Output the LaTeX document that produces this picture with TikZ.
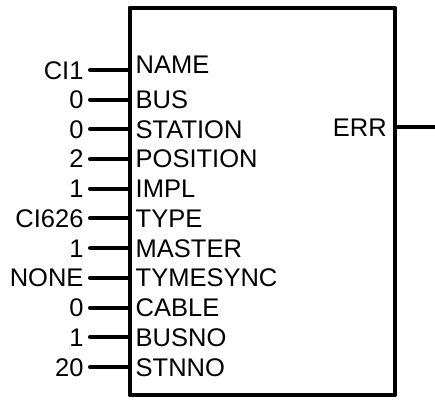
\documentclass[tikz,border=0pt]{standalone}
\usepackage{fontspec}
\setmainfont{Liberation Sans}
\usepackage{tikz}
\usetikzlibrary{positioning}

\begin{document}
\begin{tikzpicture}[x=1pt,y=-1pt,
  txt/.style={font=\fontsize{25.5}{26}\selectfont, text height=18.3pt, text depth=0pt},
  val/.style={txt, anchor=east, inner sep=0pt, outer sep=6.5pt},
  pname/.style={txt, anchor=west, inner sep=0pt},
  pin/.style={line width=4pt, line cap=round}]
\useasboundingbox (0,0) rectangle (435,399);
\node[draw, line width=4pt, line join=round, minimum width=265.5pt, minimum height=387.5pt, inner sep=0pt] (blk) at (262.25,201.25) {};
% inputs
\node[val] (vname) at (90,70) {CI1};
\node[pname] (name) at (135.5,64.5) {NAME};
\draw[pin] (vname.east) -- (vname.east -| blk.west);
\node[val] (vbus) at (90,99.5) {0};
\node[pname] (bus) at (135.5,99.5) {BUS};
\draw[pin] (vbus.east) -- (vbus.east -| blk.west);
\node[val] (vstation) at (90,129) {0};
\node[pname] (station) at (135.5,129) {STATION};
\draw[pin] (vstation.east) -- (vstation.east -| blk.west);
\node[val] (vposition) at (90,158.8) {2};
\node[pname] (position) at (135.5,158.8) {POSITION};
\draw[pin] (vposition.east) -- (vposition.east -| blk.west);
\node[val] (vimpl) at (90,188.5) {1};
\node[pname] (impl) at (135.5,188.5) {IMPL};
\draw[pin] (vimpl.east) -- (vimpl.east -| blk.west);
\node[val] (vtype) at (90,218.2) {CI626};
\node[pname] (type) at (135.5,218.2) {TYPE};
\draw[pin] (vtype.east) -- (vtype.east -| blk.west);
\node[val] (vmaster) at (90,248) {1};
\node[pname] (master) at (135.5,248) {MASTER};
\draw[pin] (vmaster.east) -- (vmaster.east -| blk.west);
\node[val] (vsync) at (90,277.8) {NONE};
\node[pname] (sync) at (135.5,277.8) {TYMESYNC};
\draw[pin] (vsync.east) -- (vsync.east -| blk.west);
\node[val] (vcable) at (90,307.8) {0};
\node[pname] (cable) at (135.5,307.8) {CABLE};
\draw[pin] (vcable.east) -- (vcable.east -| blk.west);
\node[val] (vbusno) at (90,337.3) {1};
\node[pname] (busno) at (135.5,337.3) {BUSNO};
\draw[pin] (vbusno.east) -- (vbusno.east -| blk.west);
\node[val] (vstnno) at (90,367) {20};
\node[pname] (stnno) at (135.5,367) {STNNO};
\draw[pin] (vstnno.east) -- (vstnno.east -| blk.west);
% output
\node[txt, anchor=east, inner sep=0pt] (err) at (387,127) {ERR};
\coordinate (errend) at (435,127);
\draw[pin, line cap=butt] (err.east -| blk.east) -- (errend);
\end{tikzpicture}
\end{document}
